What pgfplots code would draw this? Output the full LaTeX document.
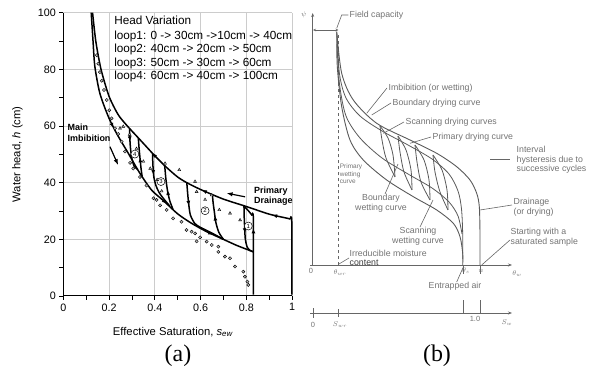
\documentclass[border=0pt]{standalone}
\usepackage{fontspec}
\setmainfont{Liberation Sans}
\newfontfamily\timesfont{Liberation Serif}
\usepackage{pgfplots}
\pgfplotsset{compat=1.18}
\usetikzlibrary{decorations.markings,arrows.meta}
\tikzset{myarrow/.style={postaction={decorate,decoration={markings,mark=at position #1 with {\arrow{Latex[length=5bp,width=4bp]}}}}},
 cnum/.style={circle, draw=black, line width=0.5bp, fill=white, inner sep=0pt, minimum size=8bp, font=\fontsize{6}{6}\selectfont},
 blab/.style={font=\fontsize{8.8}{9.6}\selectfont, text=black!55, inner sep=0.5pt},
 bsym/.style={font=\fontsize{7.5}{8}\selectfont, text=black!55, inner sep=0.5pt}}
\pgfplotsset{
 curve/.style={no marks, smooth, tension=0.45, black, line width=1.5bp},
 bline/.style={no marks, smooth, tension=0.5, black!65, line width=0.8bp},
 sline/.style={no marks, black!60, line width=0.6bp},
}
\begin{document}
\begin{tikzpicture}
\useasboundingbox (0,0) rectangle (589bp,374bp);
% ---------------- panel (a) ----------------
\begin{axis}[
 at={(63.3bp,78bp)}, anchor=south west,
 scale only axis, width=228.7bp, height=283.3bp,
 xmin=0, xmax=1, ymin=0, ymax=100,
 axis x line*=bottom, axis y line*=left,
 axis line style={black, line width=1bp},
 xtick={0,0.2,0.4,0.6,0.8,1}, xticklabels={0,0.2,0.4,0.6,0.8,1},
 ytick={0,20,40,60,80,100},
 minor xtick={0.1,0.3,0.5,0.7,0.9}, minor ytick={10,30,50,70,90},
 tick align=outside, major tick length=4bp, minor tick length=4bp,
 every tick/.style={black, line width=0.8bp},
 grid=major, major grid style={black!20, line width=1bp},
 tick label style={font=\fontsize{10.8}{12}\selectfont},
 /pgf/number format/assume math mode=true,
 xlabel={Effective Saturation, \textit{s}\textsubscript{\textit{ew}}},
 ylabel={Water head, \textit{h} (cm)},
 label style={font=\fontsize{11.3}{13}\selectfont},
 xlabel style={at={(axis description cs:0.48,-0.127)}, anchor=center},
 ylabel style={at={(axis description cs:-0.2,0.5)}, anchor=center},
 clip=false,
]
% measured points (grey)
\addplot[only marks, mark=*, mark size=1.6bp, mark options={draw=none, fill=black!28}] coordinates {
(0.146,85)(0.153,82)(0.16,79)(0.168,76)(0.178,72.7)(0.19,69.2)(0.201,65.6)(0.211,62.7)(0.226,59.2)(0.24,57.2)(0.255,54.5)(0.27,51)(0.292,47)(0.306,45)(0.335,42)(0.364,39)(0.394,34.5)(0.408,33.9)(0.423,32)(0.452,30.4)(0.48,27.4)(0.517,26.2)(0.539,23.3)(0.561,22.7)(0.576,22.1)(0.598,20.7)(0.583,19.3)(0.627,19.2)(0.649,18)(0.678,17.4)(0.678,15.6)(0.707,13.9)(0.729,13.3)(0.751,10.4)(0.787,8.6)(0.794,6.8)(0.805,5.1)(0.809,3.9)};
\addplot[only marks, mark=triangle*, mark size=1.7bp, mark options={draw=none, fill=black!28}] coordinates {
(0.248,59.2)(0.262,59.8)(0.29,57)(0.32,52)(0.35,47.5)(0.38,45)(0.41,41)(0.43,37)(0.445,46.8)(0.507,44.5)(0.576,40.4)(0.583,36.8)(0.62,34)(0.649,35.6)(0.682,30.4)(0.729,29.2)(0.773,26.8)};
% primary drainage (upper boundary)
\addplot[curve, myarrow=0.25, myarrow=0.44, myarrow=0.6] coordinates {
(0.999,0.5)(0.999,26.2)(0.99,27.2)(0.97,27.6)(0.9,28.9)(0.8,31.6)(0.7,34.2)(0.6,37.6)(0.54,40)(0.5,42)(0.45,45.5)(0.4,49.5)(0.36,53)(0.32,56.5)(0.28,60)(0.24,64)(0.2,70.5)(0.165,80)(0.142,90)(0.128,100)};
% main imbibition (lower boundary)
\addplot[curve, myarrow=0.38, myarrow=0.68, myarrow=0.86] coordinates {
(0.122,100)(0.13,90)(0.138,81)(0.16,71.5)(0.197,63.3)(0.233,57.4)(0.284,50.4)(0.335,43.3)(0.386,37.4)(0.44,33.5)(0.5,29)(0.56,25.7)(0.627,22.7)(0.7,20)(0.76,17.8)(0.831,15.6)};
% loop 1
\addplot[curve, myarrow=0.7] coordinates {(0.831,0.5)(0.831,27.2)(0.824,28.6)(0.808,30.2)(0.79,31.7)};
\addplot[curve, myarrow=0.55] coordinates {(0.79,31.7)(0.791,28)(0.793,24)(0.796,20)(0.804,17.3)(0.816,16.1)(0.831,15.6)};
% loop 2
\addplot[curve, myarrow=0.31] coordinates {(0.54,40)(0.544,36)(0.549,32)(0.556,28.5)(0.575,25.6)(0.6,24.2)(0.65,22.2)(0.7,20)};
\addplot[curve, myarrow=0.55] coordinates {(0.7,20)(0.68,22.5)(0.667,26)(0.66,30)(0.655,33)(0.652,35.8)};
% loop 3
\addplot[curve, myarrow=0.38] coordinates {(0.39,50.3)(0.392,46)(0.396,42)(0.405,39)(0.42,36.4)(0.44,34.2)(0.465,31.8)};
\addplot[curve, myarrow=0.45] coordinates {(0.48,30.5)(0.466,33.5)(0.456,37)(0.449,41)(0.445,44.5)(0.443,46.2)};
% loop 4
\addplot[curve, myarrow=0.3, myarrow=0.72] coordinates {(0.29,59.1)(0.291,55.5)(0.294,52)(0.3,48.5)(0.31,45.8)(0.325,44.7)};
\addplot[curve, myarrow=0.5] coordinates {(0.345,42.1)(0.34,45)(0.335,49)(0.331,52.5)(0.328,55.8)};
% annotation arrows
\addplot[no marks, black, line width=1.2bp, -{Latex[length=6bp,width=4.5bp]}] coordinates {(0.204,52.7)(0.24,46.2)};
\addplot[no marks, black, line width=1.2bp, -{Latex[length=6bp,width=4.5bp]}] coordinates {(0.795,35)(0.714,36.3)};
% texts
\node[anchor=north west, inner sep=0pt, align=left, font=\fontsize{11.8}{13.5}\selectfont] at (axis cs:0.222,98.9)
 {Head Variation\\[1.5bp]loop1: 0 -> 30cm ->10cm -> 40cm\\loop2: 40cm -> 20cm -> 50cm\\loop3: 50cm -> 30cm -> 60cm\\loop4: 60cm -> 40cm -> 100cm};
\node[anchor=west, inner sep=0pt, align=left, font=\fontsize{9}{10.8}\bfseries] at (axis cs:0.018,57.6) {Main\\Imbibition};
\node[anchor=west, inner sep=0pt, align=left, font=\fontsize{9}{10}\bfseries] at (axis cs:0.834,35.1) {Primary\\Drainage};
\node[cnum] at (axis cs:0.809,24.7) {1};
\node[cnum] at (axis cs:0.62,30.1) {2};
\node[cnum] at (axis cs:0.427,40.4) {3};
\node[cnum] at (axis cs:0.313,50.1) {4};
\end{axis}
% ---------------- panel (b) ----------------
\begin{axis}[
 at={(300bp,0bp)}, anchor=south west,
 scale only axis, width=289bp, height=374bp,
 xmin=300, xmax=589, ymin=0, ymax=374,
 hide axis, clip=false,
]
% axes
\addplot[sline, line width=0.8bp, -{Stealth[length=4bp,width=3bp]}] coordinates {(312.7,109)(312.7,361)};
\addplot[sline, line width=0.8bp, -{Stealth[length=4bp,width=3bp]}] coordinates {(310,109)(512,109)};
\addplot[sline, dashed] coordinates {(338.5,109)(338.5,342)};
\addplot[sline, {Stealth[length=3bp,width=2.5bp]}-{Stealth[length=3bp,width=2.5bp]}] coordinates {(313,344)(338.5,344)};
\addplot[sline] coordinates {(336.7,345.7)(341.7,359)(348.3,359)};
\addplot[sline] coordinates {(463,109)(463,100)};
\addplot[sline] coordinates {(480,109)(480,100)};
% lower axis
\addplot[sline, line width=0.8bp, -{Stealth[length=4bp,width=3bp]}] coordinates {(310,61)(512,61)};
\addplot[sline] coordinates {(313,56)(313,66)};
\addplot[sline] coordinates {(338.5,57)(338.5,65)};
\addplot[sline] coordinates {(463,61)(463,74)};
\addplot[sline] coordinates {(480,61)(480,74)};
% curves
\addplot[bline, line width=0.9bp] coordinates {(336.7,342.3)(341.7,300.7)(353.3,274)(376.7,250.7)(410,234)(436.7,220.7)(456.7,207.3)(470,194)(476.7,180.7)(479.3,167.3)(480,140)(480,109)};
\addplot[bline, line width=0.9bp] coordinates {(336.7,342.3)(337.3,307.3)(341.7,267.3)(350,234)(363.3,214)(386.7,194)(413.3,177.3)(436.7,164)(453.3,150.7)(460,137.3)(462.7,120.7)(462.7,109)};
\addplot[bline] coordinates {(337,340)(339.5,300)(346,276)(360,258)(382,243)(408,229)(432,215)(449,200)(458,183)(461.5,165)(462.7,140)(462.7,115)};
\addplot[bline] coordinates {(337,330)(339.5,290)(346,258)(360,236)(382,216)(408,200)(432,186)(449,172)(458,158)(462,140)};
% scanning loops
\addplot[bline] coordinates {(380,248)(382,234)(386,216)(395,197)};
\addplot[bline] coordinates {(380,248)(388,236)(393,219)(395,197)};
\addplot[bline] coordinates {(398,238)(400,222)(404,202)(412,184)};
\addplot[bline] coordinates {(398,238)(406,224)(411,204)(412,184)};
\addplot[bline] coordinates {(415,229)(417,212)(421,192)(430,174)};
\addplot[bline] coordinates {(415,229)(424,214)(429,194)(430,174)};
\addplot[bline] coordinates {(433,219)(435,202)(440,182)(448,164)};
\addplot[bline] coordinates {(433,219)(442,204)(447,184)(448,164)};
% leaders
\addplot[sline] coordinates {(387,286)(366.7,260.7)};
\addplot[sline] coordinates {(391,271)(371.7,259)};
\addplot[sline] coordinates {(404,252)(383.3,240.7)};
\addplot[sline] coordinates {(431,237)(410,230.7)};
\addplot[sline, line width=0.8bp] coordinates {(490,215)(510,215)};
\addplot[sline] coordinates {(385,180)(398,210)};
\addplot[sline] coordinates {(420,147)(433,174)};
\addplot[sline] coordinates {(480,164)(512,169)};
\addplot[sline] coordinates {(510,134)(481.7,109)};
\addplot[sline] coordinates {(349,116)(339,110)};
\addplot[sline] coordinates {(456.7,92)(463.3,107)};
% labels
\node[blab, anchor=west] at (axis cs:349,359) {Field capacity};
\node[bsym] at (axis cs:304,359) {$\psi$};
\node[blab, anchor=west] at (axis cs:388,286) {Imbibition (or wetting)};
\node[blab, anchor=west] at (axis cs:392,271) {Boundary drying curve};
\node[blab, anchor=west] at (axis cs:405,252) {Scanning drying curves};
\node[blab, anchor=west] at (axis cs:432,237) {Primary drying curve};
\node[blab, anchor=west, align=left] at (axis cs:516,214) {Interval\\hysteresis due to\\successive cycles};
\node[blab, align=left, font=\fontsize{6.5}{7.5}\selectfont] at (axis cs:351,200) {Primary\\wetting\\curve};
\node[blab, align=center] at (axis cs:381,171) {Boundary\\wetting curve};
\node[blab, align=center] at (axis cs:418,138) {Scanning\\wetting curve};
\node[blab, anchor=west, align=left] at (axis cs:513,167) {Drainage\\(or drying)};
\node[blab, anchor=west, align=left] at (axis cs:510,137) {Starting with a\\saturated sample};
\node[blab, anchor=west, align=left] at (axis cs:349,116) {Irreducible moisture\\\textcolor{black!75}{content}};
\node[blab] at (axis cs:455,88) {Entrapped air};
\node[bsym] at (axis cs:311,103) {0};
\node[bsym] at (axis cs:340,101) {$\theta_{wr}$};
\node[bsym] at (axis cs:466,103) {$\theta_{s}$};
\node[bsym] at (axis cs:481,103) {$n$};
\node[bsym] at (axis cs:517,100) {$\theta_w$};
\node[bsym] at (axis cs:313,49) {0};
\node[bsym] at (axis cs:340,49) {$S_{wr}$};
\node[bsym] at (axis cs:475,55) {1.0};
\node[bsym] at (axis cs:507,51) {$S_w$};
\end{axis}
% panel captions
\node[font=\timesfont\fontsize{24}{28}\selectfont] at (178bp,18bp) {(a)};
\node[font=\timesfont\fontsize{24}{28}\selectfont] at (437bp,18bp) {(b)};
\end{tikzpicture}
\end{document}
